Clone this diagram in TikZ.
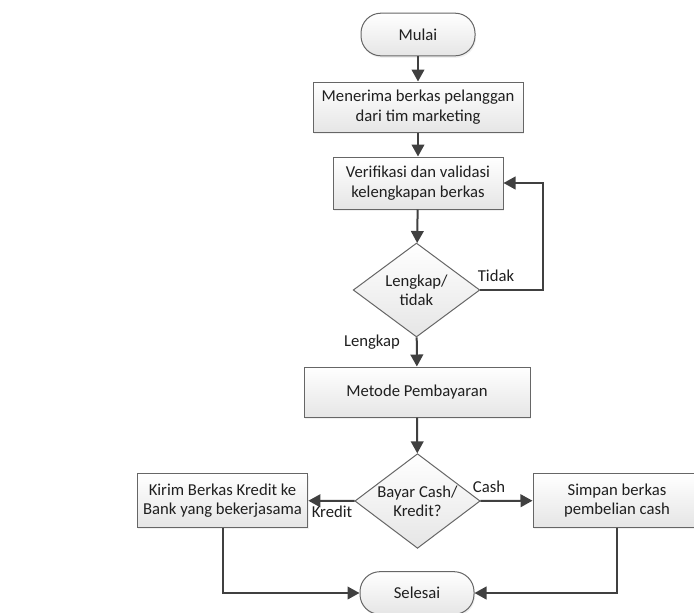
\documentclass[tikz,border=0pt]{standalone}
\usepackage{fontspec}
\setmainfont{Carlito}
\usetikzlibrary{shapes.geometric,arrows.meta,shadows}

\begin{document}
\begin{tikzpicture}[x=0.75pt,y=-0.75pt,
  every node/.style={font=\fontsize{12.5}{14.5}\selectfont, text=black!88},
  proses/.style={draw=black!60, line width=0.75pt, top color=white, bottom color=black!10,
    align=center, inner sep=0pt,
    drop shadow={opacity=0.12, shadow xshift=0.75pt, shadow yshift=-1.5pt}},
  term/.style={proses, rounded corners=15pt, minimum width=85.5pt, minimum height=32pt},
  cek/.style={diamond, aspect=1.33, draw=black!60, line width=0.75pt, top color=white, bottom color=black!10,
    align=center, inner sep=0pt},
  panah/.style={draw=black!75, line width=1.5pt, -{Triangle[length=9pt,width=9.5pt]}}]

\useasboundingbox (0,0) rectangle (694,612);

\node[term] (mulai) at (418,34.5) {Mulai};
\node[proses, minimum width=157.5pt, minimum height=37.5pt] (terima) at (418,107) {Menerima berkas pelanggan\\dari tim marketing};
\node[proses, minimum width=127.5pt, minimum height=39pt] (verif) at (418,183) {Verifikasi dan validasi\\kelengkapan berkas};
\node[cek, minimum width=95pt, minimum height=70.5pt] (lengkap) at (416.5,290) {Lengkap/\\tidak};
\node[proses, minimum width=169.5pt, minimum height=37.5pt] (metode) at (417,392) {Metode Pembayaran};
\node[cek, minimum width=94pt, minimum height=71pt] (bayar) at (417.5,501) {Bayar Cash/\\Kredit?};
\node[proses, minimum width=128pt, minimum height=40pt] (kirim) at (222.5,500.5) {Kirim Berkas Kredit ke\\Bank yang bekerjasama};
\node[proses, minimum width=126pt, minimum height=40pt] (simpan) at (617,500.5) {Simpan berkas\\pembelian cash};
\node[term] (selesai) at (417,593) {Selesai};

\coordinate (balik) at (543,290);

\draw[panah] (mulai) -- (terima);
\draw[panah] (terima) -- (verif);
\draw[panah] (verif) -- (lengkap);
\draw[panah] (lengkap.east) -- (balik) |- (verif.east);
\draw[panah] (lengkap) -- (metode);
\draw[panah] (metode) -- (bayar);
\draw[panah] (bayar) -- (kirim);
\draw[panah] (bayar) -- (simpan);
\draw[panah] (kirim) |- (selesai);
\draw[panah] (simpan) |- (selesai);

\node (tidak) at (496,276) {Tidak};
\node (lbllengkap) at (372,342) {Lengkap};
\node (cash) at (489,487) {Cash};
\node (kredit) at (332,512) {Kredit};

\end{tikzpicture}
\end{document}
